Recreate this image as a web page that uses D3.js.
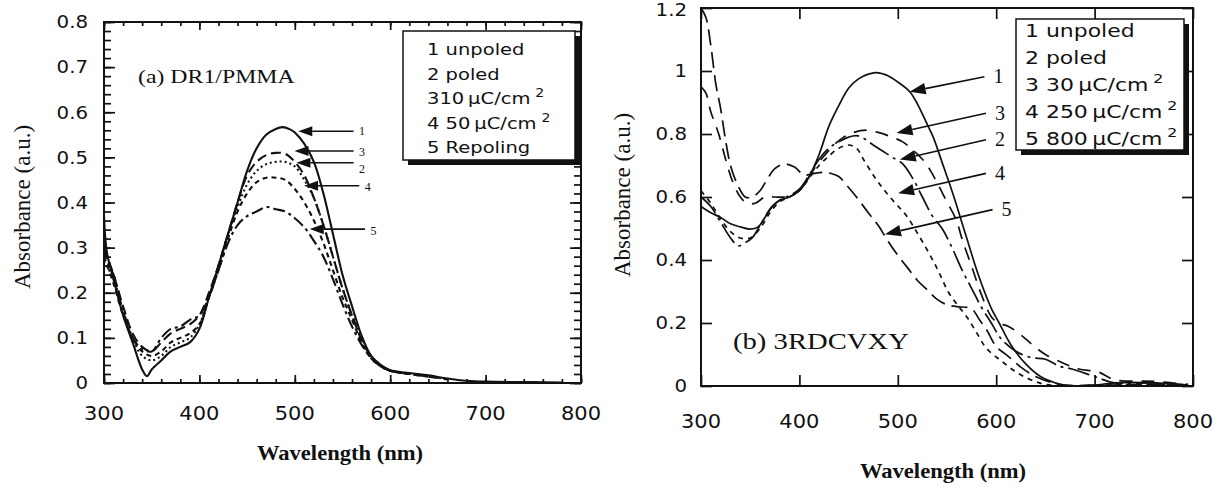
<!DOCTYPE html>
<html>
<head>
<meta charset="utf-8">
<script src="https://cdn.jsdelivr.net/npm/d3@7"></script>
<style>
  html, body { margin: 0; padding: 0; background: #fff; }
  svg { display: block; }
</style>
</head>
<body>
<svg id="fig" width="1223" height="488"></svg>
<script>
// ---------- panel (a) DR1/PMMA : [wavelength nm, absorbance] ----------
const aUnpoled = [[300,0.37],[303,0.29],[310,0.23],[320,0.15],[330,0.09],[340,0.03],[345,0.015],[350,0.03],[360,0.05],[370,0.07],[380,0.08],[390,0.09],[400,0.12],[410,0.19],[420,0.26],[430,0.33],[440,0.4],[450,0.47],[460,0.52],[470,0.55],[480,0.563],[487,0.567],[495,0.562],[500,0.555],[510,0.53],[520,0.49],[530,0.42],[540,0.33],[550,0.24],[560,0.17],[570,0.105],[580,0.06],[590,0.04],[600,0.028],[620,0.022],[640,0.017],[660,0.01],[680,0.005],[700,0.003],[750,0.002],[780,0.001]];
const aPoled = [[300,0.27],[310,0.23],[320,0.16],[330,0.1],[340,0.06],[350,0.05],[360,0.06],[370,0.08],[380,0.09],[390,0.1],[400,0.13],[410,0.19],[420,0.26],[430,0.33],[440,0.39],[450,0.44],[460,0.47],[470,0.485],[480,0.49],[490,0.49],[500,0.48],[510,0.45],[520,0.41],[530,0.35],[540,0.28],[550,0.21],[560,0.15],[570,0.1],[580,0.06],[590,0.04],[600,0.028],[620,0.021],[640,0.015],[660,0.008]];
const a10uC = [[300,0.3],[310,0.24],[320,0.17],[330,0.11],[340,0.08],[350,0.07],[360,0.09],[370,0.11],[380,0.12],[390,0.13],[400,0.15],[410,0.2],[420,0.26],[430,0.33],[440,0.4],[450,0.46],[460,0.49],[470,0.505],[480,0.51],[490,0.508],[500,0.49],[510,0.46],[520,0.41],[530,0.35],[540,0.28],[550,0.21],[560,0.15],[570,0.095],[580,0.058],[590,0.038],[600,0.027],[620,0.02],[640,0.014],[660,0.008]];
const a50uC = [[300,0.28],[310,0.22],[320,0.15],[330,0.1],[340,0.07],[350,0.06],[360,0.07],[370,0.09],[380,0.1],[390,0.11],[400,0.13],[410,0.19],[420,0.25],[430,0.32],[440,0.38],[450,0.42],[460,0.445],[470,0.455],[480,0.455],[490,0.45],[500,0.43],[510,0.4],[520,0.36],[530,0.31],[540,0.25],[550,0.19],[560,0.14],[570,0.09],[580,0.055],[590,0.037],[600,0.027],[620,0.02],[640,0.014]];
const aRepoling = [[300,0.3],[305,0.26],[310,0.24],[320,0.16],[330,0.1],[340,0.075],[350,0.07],[360,0.1],[370,0.12],[380,0.125],[390,0.14],[400,0.15],[410,0.19],[420,0.25],[430,0.31],[440,0.35],[450,0.37],[460,0.38],[470,0.39],[480,0.385],[490,0.38],[500,0.365],[510,0.345],[520,0.315],[530,0.28],[540,0.23],[550,0.175],[560,0.125],[570,0.085],[580,0.055],[590,0.037],[600,0.027],[620,0.02]];
const aLegend = ["1 unpoled", "2 poled", "310\u2009\u03bcC/cm", "4 50\u2009\u03bcC/cm", "5 Repoling"];
const aLegendSup = [false, false, true, true, false];
const aArrowLabels = ["1", "3", "2", "4", "5"];
const aArrowHeads = [[503.7,0.558],[499.7,0.514],[501.7,0.488],[509.7,0.437],[515.7,0.341]];
const aArrowTails = [[561.6,0.558],[561.6,0.514],[561.6,0.488],[567.6,0.437],[573.6,0.341]];
const aXTicks = [300, 400, 500, 600, 700, 800];
const aYTicks = [0, 0.1, 0.2, 0.3, 0.4, 0.5, 0.6, 0.7, 0.8];

// ---------- panel (b) 3RDCVXY ----------
const bUnpoled = [[300,0.57],[310,0.55],[320,0.535],[330,0.515],[340,0.505],[350,0.498],[358,0.505],[365,0.535],[372,0.57],[380,0.59],[390,0.6],[400,0.62],[410,0.665],[420,0.735],[430,0.825],[440,0.89],[450,0.945],[460,0.975],[470,0.99],[478,0.995],[490,0.985],[500,0.965],[512,0.935],[520,0.895],[530,0.83],[536,0.79],[545,0.71],[556,0.61],[569,0.48],[580,0.37],[588,0.3],[596,0.24],[603,0.2],[615,0.13],[630,0.07],[645,0.03],[660,0.01],[670,0.002],[700,0.003],[720,0.01],[760,0.01],[795,0.003]];
const bPoled = [[300,0.6],[310,0.57],[320,0.52],[330,0.47],[338,0.445],[345,0.455],[352,0.47],[360,0.51],[370,0.56],[380,0.59],[390,0.605],[400,0.625],[410,0.67],[420,0.72],[430,0.755],[440,0.775],[450,0.79],[458,0.795],[466,0.785],[475,0.765],[485,0.745],[495,0.725],[505,0.705],[515,0.66],[525,0.6],[535,0.54],[545,0.5],[555,0.44],[565,0.37],[575,0.31],[585,0.25],[595,0.2],[605,0.15],[620,0.11],[636,0.09],[650,0.085],[664,0.063],[677,0.054],[700,0.03],[720,0.01],[760,0.01],[795,0.003]];
const b30uC = [[300,0.95],[305,0.93],[310,0.87],[318,0.8],[325,0.72],[332,0.65],[340,0.6],[347,0.58],[355,0.58],[365,0.6],[375,0.6],[385,0.6],[395,0.61],[405,0.64],[415,0.69],[425,0.73],[435,0.765],[445,0.79],[455,0.805],[468,0.812],[480,0.805],[494,0.79],[505,0.775],[515,0.75],[525,0.72],[532,0.69],[540,0.645],[549,0.59],[559,0.53],[566,0.46],[575,0.38],[585,0.29],[595,0.22],[602,0.2],[612,0.19],[626,0.16],[636,0.133],[650,0.1],[670,0.07],[684,0.054],[704,0.044],[720,0.02],[760,0.015],[795,0.005]];
const b250uC = [[300,0.62],[310,0.58],[320,0.53],[330,0.49],[340,0.47],[350,0.47],[360,0.5],[370,0.55],[380,0.585],[390,0.6],[400,0.62],[410,0.66],[420,0.7],[430,0.73],[440,0.755],[450,0.765],[458,0.755],[465,0.72],[475,0.67],[483,0.635],[492,0.6],[502,0.565],[509,0.54],[519,0.49],[532,0.42],[542,0.36],[551,0.3],[560,0.26],[570,0.22],[580,0.17],[590,0.12],[605,0.08],[620,0.045],[635,0.02],[650,0.005],[670,0.0],[700,0.002],[750,0.005],[795,0.002]];
const b800uC = [[300,1.2],[305,1.17],[310,1.08],[315,0.96],[320,0.88],[325,0.78],[330,0.7],[337,0.64],[345,0.6],[352,0.6],[360,0.62],[368,0.66],[375,0.69],[385,0.705],[395,0.695],[405,0.67],[415,0.675],[425,0.678],[432,0.675],[440,0.665],[450,0.63],[458,0.6],[470,0.55],[480,0.51],[490,0.46],[500,0.415],[510,0.375],[520,0.335],[530,0.305],[540,0.275],[550,0.258],[560,0.252],[575,0.245],[583,0.21],[590,0.18],[600,0.125],[612,0.095],[625,0.06],[640,0.03],[655,0.012],[670,0.003],[700,0.002],[740,0.005],[790,0.003]];
const bLegend = ["1 unpoled", "2 poled", "3 30\u2009\u03bcC/cm", "4 250\u2009\u03bcC/cm", "5 800\u2009\u03bcC/cm"];
const bLegendSup = [false, false, true, true, true];
const bArrowLabels = ["1", "3", "2", "4", "5"];
const bArrowHeads = [[512,0.934],[498.7,0.803],[502,0.719],[500.3,0.612],[486.9,0.482]];
const bArrowTails = [[588,0.982],[589.6,0.866],[589.6,0.782],[589.6,0.675],[596.3,0.56]];
const bXTicks = [300, 400, 500, 600, 700, 800];
const bYTicks = [0, 0.2, 0.4, 0.6, 0.8, 1, 1.2];

const SANS = "'DejaVu Sans', sans-serif";
const SERIF = "'Liberation Serif', 'Times New Roman', serif";
const SX = 1.22; // the scanned figure is wider than the fonts

const panels = [
  {
    box: { left: 104, right: 581, top: 22, bottom: 383 },
    yDomain: [0, 0.8], xTicks: aXTicks, yTicks: aYTicks,
    minor: true, xMajor: 8, xMinor: 4, yMajor: 11, yMinor: 7, xLabelY: 37, yLabelGap: 16, lineW: 2.1,
    series: [aUnpoled, aPoled, a10uC, a50uC, aRepoling],
    dashes: [null, "2,3", "10,5", "5,4", "12,4,3,4"],
    legend: aLegend, legendSup: aLegendSup,
    legendBox: { x: 403, y: 31, w: 172, h: 129, tx: 24, ty: 24, dy: 24.5, size: 16 },
    title: "(a) DR1/PMMA", titlePos: [138, 83], titleSize: 19.5,
    arrows: { labels: aArrowLabels, heads: aArrowHeads, tails: aArrowTails, size: 12, head: 14,
              shift: [0, 1, 6, 1, 2] },
    xTitle: [340, 460], yTitle: [30, 207],
  },
  {
    box: { left: 701, right: 1193, top: 8, bottom: 386 },
    yDomain: [0, 1.2], xTicks: bXTicks, yTicks: bYTicks,
    minor: false, xMajor: 11, xMinor: 0, yMajor: 11, yMinor: 0, xLabelY: 42, yLabelGap: 14, lineW: 1.7,
    series: [bUnpoled, bPoled, b30uC, b250uC, b800uC],
    dashes: [null, "22,5,3,5", "13,9", "5,5", "16,7"],
    legend: bLegend, legendSup: bLegendSup,
    legendBox: { x: 1016, y: 19, w: 168, h: 131, tx: 9, ty: 18, dy: 27, size: 18 },
    title: "(b) 3RDCVXY", titlePos: [733, 349], titleSize: 23.5,
    arrows: { labels: bArrowLabels, heads: bArrowHeads, tails: bArrowTails, size: 20, head: 16,
              shift: [0, 0, 0, 0, 0] },
    xTitle: [943, 478], yTitle: [630, 195],
  },
];

const svg = d3.select("#fig");

function stretched(g, x, y, str, size, family, anchor, sx) {
  return g.append("text")
    .attr("transform", `translate(${x},${y}) scale(${sx},1)`)
    .attr("text-anchor", anchor)
    .attr("fill", "#111")
    .style("font-family", family)
    .style("font-size", size + "px")
    .text(str);
}

function drawPanel(p) {
  const b = p.box;
  const x = d3.scaleLinear().domain([300, 800]).range([b.left, b.right]);
  const y = d3.scaleLinear().domain(p.yDomain).range([b.bottom, b.top]);
  const g = svg.append("g");

  // minor ticks on all sides
  if (p.minor) {
    const xm = x.ticks(25), ym = y.ticks(40);
    g.append("g").attr("transform", `translate(0,${b.bottom})`)
      .call(d3.axisBottom(x).tickValues(xm).tickSize(-p.xMinor).tickFormat(""));
    g.append("g").attr("transform", `translate(0,${b.top})`)
      .call(d3.axisTop(x).tickValues(xm).tickSize(-p.xMinor).tickFormat(""));
    g.append("g").attr("transform", `translate(${b.left},0)`)
      .call(d3.axisLeft(y).tickValues(ym).tickSize(-p.yMinor).tickFormat(""));
    g.append("g").attr("transform", `translate(${b.right},0)`)
      .call(d3.axisRight(y).tickValues(ym).tickSize(-p.yMinor).tickFormat(""));
  }
  // major ticks, pointing inwards on every side
  g.append("g").attr("transform", `translate(0,${b.bottom})`)
    .call(d3.axisBottom(x).tickValues(p.xTicks).tickSize(-p.xMajor).tickFormat(""));
  g.append("g").attr("transform", `translate(0,${b.top})`)
    .call(d3.axisTop(x).tickValues(p.xTicks).tickSize(-p.xMajor).tickFormat(""));
  g.append("g").attr("transform", `translate(${b.left},0)`)
    .call(d3.axisLeft(y).tickValues(p.yTicks).tickSize(-p.yMajor).tickFormat(""));
  g.append("g").attr("transform", `translate(${b.right},0)`)
    .call(d3.axisRight(y).tickValues(p.yTicks).tickSize(-p.yMajor).tickFormat(""));

  g.selectAll(".domain").remove();
  g.selectAll(".tick line").attr("stroke", "#111").attr("stroke-width", 1.7);

  // tick labels
  p.xTicks.forEach(v => {
    stretched(g, x(v), b.bottom + p.xLabelY, String(v), 20, SANS, "middle", 1.05);
  });
  p.yTicks.forEach(v => {
    // keep the topmost label inside the page
    stretched(g, b.left - p.yLabelGap, Math.max(y(v) + 6.3, 16), String(v), 17.5, SANS, "end", 1.13);
  });

  // frame
  g.append("rect")
    .attr("x", b.left).attr("y", b.top)
    .attr("width", b.right - b.left).attr("height", b.bottom - b.top)
    .attr("fill", "none").attr("stroke", "#111").attr("stroke-width", 2);

  // spectra
  const line = d3.line()
    .x(d => x(d[0])).y(d => y(d[1]))
    .curve(d3.curveCatmullRom.alpha(0.5));
  g.selectAll("path.spec")
    .data(p.series)
    .join("path")
    .attr("class", "spec")
    .attr("d", line)
    .attr("fill", "none")
    .attr("stroke", "#111")
    .attr("stroke-width", p.lineW)
    .attr("stroke-dasharray", (d, i) => p.dashes[i]);

  // arrows with numbers
  const a = p.arrows;
  a.labels.forEach((lab, i) => {
    const hx = x(a.heads[i][0]), hy = y(a.heads[i][1]);
    const tx = x(a.tails[i][0]), ty = y(a.tails[i][1]);
    const ang = Math.atan2(ty - hy, tx - hx);
    const L = a.head, W = L * 0.36;
    const bx = hx + L * Math.cos(ang), by = hy + L * Math.sin(ang);
    g.append("line")
      .attr("x1", bx).attr("y1", by).attr("x2", tx).attr("y2", ty)
      .attr("stroke", "#111").attr("stroke-width", 1.6);
    g.append("path")
      .attr("d", `M${hx},${hy}L${bx - W * Math.sin(ang)},${by + W * Math.cos(ang)}L${bx + W * Math.sin(ang)},${by - W * Math.cos(ang)}Z`)
      .attr("fill", "#111");
    g.append("text")
      .attr("x", tx + a.size * 0.45).attr("y", ty + a.size * 0.33 + a.shift[i])
      .style("font-family", SERIF).style("font-size", a.size + "px")
      .attr("fill", "#111")
      .text(lab);
  });

  // legend with drop shadow
  const lb = p.legendBox;
  g.append("rect").attr("x", lb.x + 5).attr("y", lb.y + 5)
    .attr("width", lb.w).attr("height", lb.h).attr("fill", "#111");
  g.append("rect").attr("x", lb.x).attr("y", lb.y)
    .attr("width", lb.w).attr("height", lb.h)
    .attr("fill", "#fff").attr("stroke", "#111").attr("stroke-width", 1.5);
  p.legend.forEach((txt, i) => {
    const t = stretched(g, lb.x + lb.tx, lb.y + lb.ty + i * lb.dy, "", lb.size, SANS, "start", SX);
    t.append("tspan").text(txt);
    if (p.legendSup[i]) {
      t.append("tspan").attr("dx", 4).attr("dy", -lb.size * 0.42)
        .style("font-size", (lb.size * 0.72) + "px").text("2");
    }
  });

  // panel label
  stretched(g, p.titlePos[0], p.titlePos[1], p.title, p.titleSize, SERIF, "start", SX);

  // axis titles
  stretched(g, p.xTitle[0], p.xTitle[1], "Wavelength (nm)", 21.5, SERIF, "middle", 1.05)
    .style("font-weight", "bold");
  g.append("text")
    .attr("transform", `translate(${p.yTitle[0]},${p.yTitle[1]}) rotate(-90)`)
    .attr("text-anchor", "middle")
    .style("font-family", SERIF).style("font-size", "23px")
    .attr("fill", "#111")
    .text("Absorbance (a.u.)");
}

panels.forEach(drawPanel);
</script>
</body>
</html>
